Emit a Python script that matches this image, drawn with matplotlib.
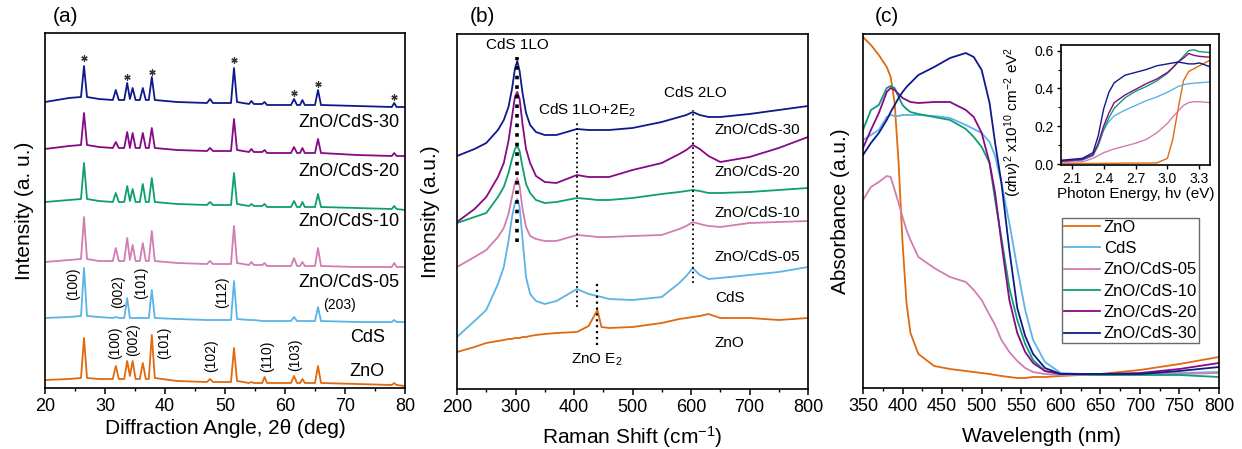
import matplotlib
matplotlib.use("Agg")
import matplotlib.pyplot as plt
from matplotlib.ticker import MultipleLocator, FormatStrFormatter

plt.rcParams['font.family'] = ['Liberation Sans', 'DejaVu Sans']
plt.rcParams['mathtext.fontset'] = 'custom'
plt.rcParams['mathtext.rm'] = 'Liberation Sans'
plt.rcParams['mathtext.it'] = 'Liberation Sans:italic'

# colours used for the six samples
C_ZNO = '#DF6A0F'
C_CDS = '#5AB4E8'
C_05 = '#D27DB2'
C_10 = '#0F9E74'
C_20 = '#860A86'
C_30 = '#0E1A8A'

# ---------------- (a) XRD ----------------
two_theta = [20, 24, 26.0, 26.5, 27.0, 29.0, 31.3, 31.8, 32.3, 33.2, 33.7, 34.15,
             34.6, 35.1, 35.8, 36.3, 36.8, 37.3, 37.8, 38.3, 42.0, 47.0, 47.5, 48.0,
             51.0, 51.5, 52.0, 54.0, 54.4, 54.8, 56.2, 56.6, 57.0, 61.0, 61.5, 62.0,
             62.5, 62.9, 63.3, 65.0, 65.5, 66.0, 72.0, 77.8, 78.2, 78.6, 80.0]
xrd_30 = [286, 290, 291, 322, 291, 289, 288, 298, 288, 288, 305, 289,
          300, 288, 288, 300, 288, 288, 311, 288, 286, 285, 289, 285,
          285, 320, 286, 284, 287, 284, 284, 286, 283, 283, 289, 283,
          283, 288, 283, 283, 298, 283, 282, 281, 285, 281, 281]
xrd_20 = [239, 242, 243, 275, 243, 241, 240, 246, 240, 240, 256, 240,
          255, 240, 240, 255, 240, 240, 260, 240, 238, 237, 240, 237,
          237, 269, 238, 236, 239, 236, 236, 238, 235, 235, 241, 235,
          235, 240, 235, 235, 249, 235, 233, 232, 235, 232, 232]
xrd_10 = [186, 188, 189, 225, 189, 187, 186, 195, 186, 186, 202, 187,
          199, 186, 186, 204, 186, 186, 210, 186, 184, 183, 186, 183,
          183, 215, 184, 182, 184, 182, 182, 184, 181, 181, 187, 181,
          181, 186, 181, 181, 194, 181, 180, 179, 182, 179, 178]
xrd_05 = [126, 128, 129, 171, 129, 127, 127, 140, 127, 127, 150, 128,
          143, 127, 127, 145, 127, 127, 157, 127, 125, 124, 127, 124,
          124, 162, 125, 123, 126, 123, 123, 125, 122, 122, 130, 122,
          122, 126, 122, 122, 140, 122, 121, 121, 125, 121, 121]
xrd_cds = [70, 71, 72, 120, 72, 71, 70, 71, 70, 70, 90, 70,
           70, 70, 70, 70, 70, 70, 98, 70, 69, 68, 68, 68,
           68, 107, 69, 68, 68, 68, 67, 67, 67, 67, 71, 67,
           67, 67, 67, 67, 81, 67, 66, 66, 68, 66, 66]
xrd_zno = [8, 9, 10, 50, 10, 9, 9, 22, 9, 9, 27, 12,
           27, 9, 9, 25, 9, 9, 53, 10, 7, 6, 9, 6,
           6, 40, 7, 5, 6, 5, 5, 11, 5, 5, 12, 5,
           5, 9, 5, 5, 22, 5, 4, 3, 5, 3, 2]

star_x = [26.5, 33.7, 37.8, 51.5, 61.5, 65.5, 78.2]
star_y = [330, 311, 316, 328, 295, 304, 291]

hkl_cds = ['(100)', '(002)', '(101)', '(112)']
hkl_cds_x = [24.7, 32.2, 36.1, 49.5]
hkl_cds_y = [104, 96, 105, 96]
hkl_zno = ['(100)', '(002)', '(101)', '(102)', '(110)', '(103)']
hkl_zno_x = [31.7, 34.7, 39.9, 47.7, 57.0, 61.7]
hkl_zno_y = [45, 48, 45, 32, 32, 33]

# ---------------- (b) Raman ----------------
raman_shift = [200, 230, 250, 270, 280, 288, 294, 299, 303, 307, 312, 318, 325, 335,
               350, 370, 405, 425, 440, 447, 460, 500, 550, 580, 592, 603, 615, 630,
               650, 700, 750, 800]
raman_30 = [233, 240, 246, 259, 269, 282, 300, 320, 328, 318, 296, 276, 264, 257,
            254, 254, 260, 259, 259, 259, 259, 261, 267, 272, 274, 277, 274, 272,
            272, 275, 279, 283]
raman_20 = [167, 180, 192, 212, 226, 248, 272, 292, 297, 290, 265, 240, 226, 213,
            207, 206, 214, 212, 212, 212, 212, 219, 226, 235, 239, 244, 240, 233,
            227, 232, 241, 252]
raman_10 = [166, 172, 176, 192, 202, 216, 230, 240, 243, 238, 222, 205, 196, 189,
            186, 187, 191, 190, 189, 189, 189, 191, 195, 197, 198, 199, 198, 196,
            196, 197, 199, 201]
raman_05 = [122, 132, 139, 152, 161, 175, 192, 206, 211, 203, 180, 162, 153, 150,
            148, 148, 154, 153, 152, 152, 152, 153, 154, 160, 163, 167, 165, 163,
            162, 166, 167, 168]
raman_cds = [52, 68, 79, 105, 122, 148, 172, 186, 190, 182, 150, 112, 95, 88,
             85, 88, 100, 95, 93, 92, 90, 89, 92, 106, 113, 121, 114, 110,
             111, 114, 117, 122]
raman_zno = [37, 42, 46, 48, 49, 50, 50, 51, 51, 51, 52, 52, 53, 54,
             55, 56, 57, 63, 79, 62, 61, 62, 66, 70, 71, 72, 73, 75,
             71, 71, 69, 71]

# ---------------- (c) UV-vis ----------------
wavelength = [350, 360, 370, 380, 385, 390, 395, 400, 405, 410, 420, 440, 460, 480, 490,
              500, 510, 517, 525, 535, 545, 555, 565, 580, 600, 650, 700, 750, 800]
abs_zno = [351, 343, 333, 321, 311, 285, 225, 145, 85, 55, 34, 22, 19, 17, 16,
           15, 14, 13, 12, 11, 10, 10, 11, 11, 12, 14, 18, 24, 31]
abs_cds = [248, 253, 258, 271, 273, 272, 272, 273, 273, 273, 273, 272, 270, 263, 259,
           255, 246, 232, 205, 165, 120, 78, 48, 26, 15, 13, 14, 15, 16]
abs_05 = [188, 201, 206, 212, 211, 198, 185, 171, 158, 148, 131, 120, 111, 106, 98,
          88, 73, 63, 48, 36, 27, 20, 16, 14, 13, 13, 14, 14, 15]
abs_10 = [258, 278, 283, 300, 302, 300, 291, 283, 279, 276, 274, 271, 268, 259, 251,
          241, 225, 188, 150, 100, 68, 44, 28, 17, 14, 13, 13, 13, 11]
abs_20 = [240, 258, 275, 296, 300, 298, 294, 290, 288, 286, 285, 286, 286, 278, 271,
          255, 225, 195, 145, 88, 55, 36, 25, 17, 14, 14, 15, 19, 25]
abs_30 = [233, 245, 255, 268, 276, 283, 290, 296, 301, 305, 313, 321, 330, 335, 331,
          318, 285, 245, 205, 138, 80, 52, 34, 20, 14, 14, 14, 17, 21]

# Tauc plot (inset)
photon_energy = [2.0, 2.2, 2.3, 2.35, 2.4, 2.45, 2.5, 2.6, 2.7, 2.8, 2.9, 3.0,
                 3.05, 3.1, 3.15, 3.2, 3.25, 3.3, 3.4]
tauc_zno = [0.003, 0.003, 0.003, 0.003, 0.004, 0.004, 0.004, 0.005, 0.005, 0.005,
            0.006, 0.03, 0.13, 0.29, 0.44, 0.49, 0.505, 0.52, 0.55]
tauc_cds = [0.015, 0.022, 0.045, 0.10, 0.18, 0.225, 0.255, 0.285, 0.31, 0.335,
            0.355, 0.38, 0.395, 0.41, 0.42, 0.425, 0.428, 0.43, 0.435]
tauc_05 = [0.01, 0.012, 0.03, 0.045, 0.06, 0.07, 0.08, 0.095, 0.11, 0.13,
           0.165, 0.215, 0.25, 0.28, 0.31, 0.325, 0.33, 0.33, 0.325]
tauc_10 = [0.015, 0.022, 0.045, 0.10, 0.18, 0.245, 0.295, 0.35, 0.385, 0.41,
           0.44, 0.48, 0.51, 0.54, 0.57, 0.60, 0.605, 0.595, 0.59]
tauc_20 = [0.015, 0.025, 0.05, 0.11, 0.20, 0.27, 0.325, 0.365, 0.395, 0.425,
           0.45, 0.485, 0.51, 0.54, 0.56, 0.585, 0.575, 0.57, 0.565]
tauc_30 = [0.02, 0.03, 0.06, 0.15, 0.29, 0.38, 0.43, 0.47, 0.485, 0.50,
           0.52, 0.53, 0.535, 0.54, 0.535, 0.53, 0.53, 0.535, 0.515]

labels = ['ZnO', 'CdS', 'ZnO/CdS-05', 'ZnO/CdS-10', 'ZnO/CdS-20', 'ZnO/CdS-30']
colors = [C_ZNO, C_CDS, C_05, C_10, C_20, C_30]

LW = 1.3
TICK = 13


def style_axis(ax):
    for sp in ax.spines.values():
        sp.set_linewidth(1.2)
    ax.tick_params(axis='x', which='major', direction='out', length=4, width=1.1,
                   labelsize=TICK, pad=3)
    ax.tick_params(axis='x', which='minor', direction='out', length=2.5, width=1)
    ax.set_yticks([])


fig = plt.figure(figsize=(12.42, 4.49), dpi=100)
ax_a = fig.add_axes([45 / 1242, 1 - 388 / 449, 360 / 1242, 355 / 449])
ax_b = fig.add_axes([457 / 1242, 1 - 389 / 449, 351 / 1242, 355 / 449])
ax_c = fig.add_axes([863 / 1242, 1 - 388 / 449, 356 / 1242, 354 / 449])

# (a)
xrd = [xrd_zno, xrd_cds, xrd_05, xrd_10, xrd_20, xrd_30]
for y, c in zip(xrd, colors):
    ax_a.plot(two_theta, y, color=c, lw=LW)
ax_a.plot(star_x, star_y, ls='none', marker=(6, 2, 0), ms=4.5, mew=0.9, color='#333333')
for t, x, y in zip(hkl_cds, hkl_cds_x, hkl_cds_y):
    ax_a.text(x, y, t, rotation=90, ha='center', va='center', fontsize=10)
ax_a.text(69.1, 83, '(203)', ha='center', va='center', fontsize=10)
for t, x, y in zip(hkl_zno, hkl_zno_x, hkl_zno_y):
    ax_a.text(x, y, t, rotation=90, ha='center', va='center', fontsize=10)
for t, y in zip(['ZnO/CdS-30', 'ZnO/CdS-20', 'ZnO/CdS-10', 'ZnO/CdS-05'],
                [265, 216, 166, 105]):
    ax_a.text(62.2, y, t, ha='left', va='center', fontsize=13)
ax_a.text(70.8, 50, 'CdS', ha='left', va='center', fontsize=13)
ax_a.text(70.8, 16, 'ZnO', ha='left', va='center', fontsize=13)
ax_a.set_xlim(20, 80)
ax_a.set_ylim(0, 355)
ax_a.xaxis.set_major_locator(MultipleLocator(10))
ax_a.xaxis.set_minor_locator(MultipleLocator(5))
style_axis(ax_a)
ax_a.set_xlabel('Diffraction Angle, 2\u03b8 (deg)', fontsize=15, labelpad=3)
ax_a.set_ylabel('Intensity (a. u.)', fontsize=15, labelpad=8)

# (b)
raman = [raman_zno, raman_cds, raman_05, raman_10, raman_20, raman_30]
for y, c in zip(raman, colors):
    ax_b.plot(raman_shift, y, color=c, lw=LW)
ax_b.plot([303, 303], [147, 332], ls=':', color='k', lw=2.6)
ax_b.plot([405, 405], [82, 267], ls=':', color='k', lw=1.3)
ax_b.plot([603, 603], [106, 279], ls=':', color='k', lw=1.3)
ax_b.plot([440, 440], [44, 106], ls=':', color='k', lw=1.6)
ax_b.text(304, 344, 'CdS 1LO', ha='center', va='center', fontsize=11)
ax_b.text(422, 279, 'CdS 1LO+2E$\\mathregular{_2}$', ha='center', va='center', fontsize=11)
ax_b.text(607, 296, 'CdS 2LO', ha='center', va='center', fontsize=11)
ax_b.text(439, 29, 'ZnO E$\\mathregular{_2}$', ha='center', va='center', fontsize=11)
for t, y in zip(['ZnO/CdS-30', 'ZnO/CdS-20', 'ZnO/CdS-10', 'ZnO/CdS-05', 'CdS', 'ZnO'],
                [259, 217, 176, 132, 91, 46]):
    ax_b.text(641, y, t, ha='left', va='center', fontsize=11)
ax_b.set_xlim(200, 800)
ax_b.set_ylim(0, 355)
ax_b.xaxis.set_major_locator(MultipleLocator(100))
ax_b.xaxis.set_minor_locator(MultipleLocator(50))
style_axis(ax_b)
ax_b.set_xlabel('Raman Shift (cm$\\mathregular{^{-1}}$)', fontsize=15, labelpad=6)
ax_b.set_ylabel('Intensity (a.u.)', fontsize=15, labelpad=12)

# (c)
absorb = [abs_zno, abs_cds, abs_05, abs_10, abs_20, abs_30]
for y, c, lab in zip(absorb, colors, labels):
    ax_c.plot(wavelength, y, color=c, lw=LW, label=lab)
ax_c.set_xlim(350, 800)
ax_c.set_ylim(0, 354)
ax_c.xaxis.set_major_locator(MultipleLocator(50))
ax_c.xaxis.set_minor_locator(MultipleLocator(25))
style_axis(ax_c)
ax_c.set_xlabel('Wavelength (nm)', fontsize=15, labelpad=9)
ax_c.set_ylabel('Absorbance (a.u.)', fontsize=15, labelpad=9)
leg = ax_c.legend(loc='upper left', bbox_to_anchor=(1062 / 1242, 1 - 218 / 449),
                  bbox_transform=fig.transFigure, fontsize=12, frameon=True,
                  fancybox=False, edgecolor='#444444', borderpad=0.1,
                  labelspacing=0.38, handlelength=2.2, handletextpad=0.2,
                  borderaxespad=0)
leg.get_frame().set_linewidth(1.0)

# inset: Tauc plot
ax_in = fig.add_axes([1061 / 1242, 1 - 165 / 449, 149 / 1242, 120 / 449])
tauc = [tauc_zno, tauc_cds, tauc_05, tauc_10, tauc_20, tauc_30]
for y, c in zip(tauc, colors):
    ax_in.plot(photon_energy, y, color=c, lw=1.0)
ax_in.set_xlim(2.0, 3.4)
ax_in.set_ylim(-0.005, 0.63)
ax_in.set_xticks([2.1, 2.4, 2.7, 3.0, 3.3])
ax_in.yaxis.set_major_locator(MultipleLocator(0.2))
ax_in.yaxis.set_minor_locator(MultipleLocator(0.1))
ax_in.yaxis.set_major_formatter(FormatStrFormatter('%.1f'))
for sp in ax_in.spines.values():
    sp.set_linewidth(1.2)
ax_in.tick_params(axis='both', which='major', direction='out', length=3, width=1,
                  labelsize=10, pad=2)
ax_in.tick_params(axis='both', which='minor', direction='out', length=2, width=0.8)
ax_in.set_xlabel('Photon Energy, h\u03bd (eV)', fontsize=11, labelpad=1)
ax_in.set_ylabel('($\\alpha$h$\\nu$)$\\mathregular{^2}$ x10$\\mathregular{^{10}}$ '
                 'cm$\\mathregular{^{-2}}$ eV$\\mathregular{^2}$', fontsize=11)
ax_in.yaxis.set_label_coords(-0.25, 0.36)

# panel letters
fig.text(65 / 1242, 1 - 16 / 449, '(a)', ha='center', va='center', fontsize=15)
fig.text(482 / 1242, 1 - 16 / 449, '(b)', ha='center', va='center', fontsize=15)
fig.text(887 / 1242, 1 - 16 / 449, '(c)', ha='center', va='center', fontsize=15)

fig.savefig('out.png', dpi=100)
